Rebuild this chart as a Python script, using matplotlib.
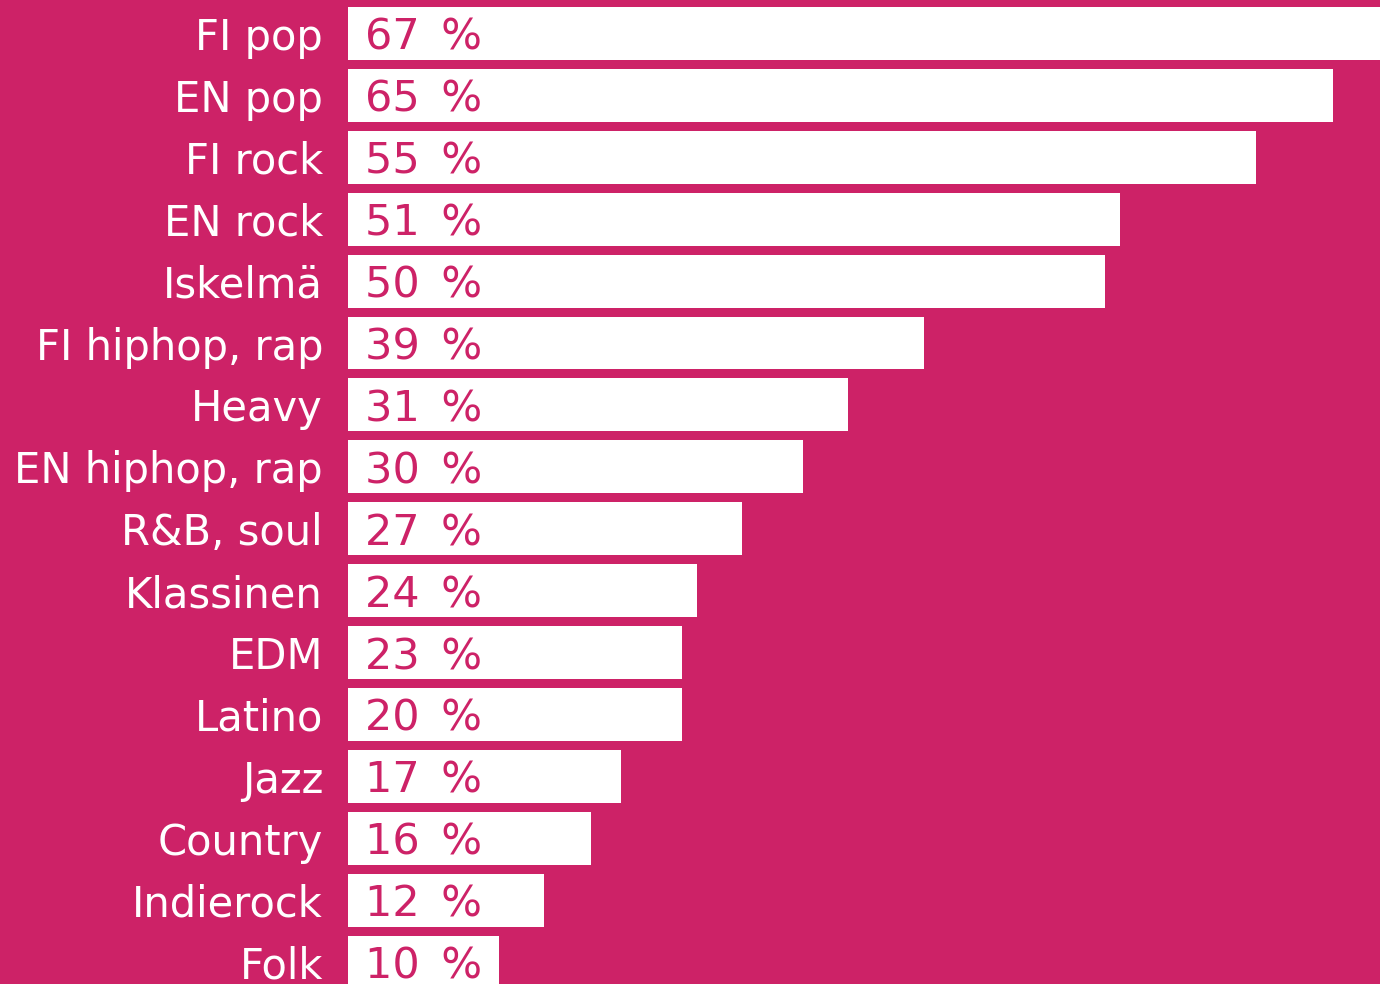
import matplotlib.pyplot as plt
import numpy as np

# genre shares, top to bottom
genres = ["FI pop", "EN pop", "FI rock", "EN rock", "Iskelmä", "FI hiphop, rap",
          "Heavy", "EN hiphop, rap", "R&B, soul", "Klassinen", "EDM", "Latino",
          "Jazz", "Country", "Indierock", "Folk"]
shares = [67, 65, 55, 51, 50, 39, 31, 30, 27, 24, 23, 20, 17, 16, 12, 10]
# bar lengths as drawn in the picture (not always equal to the printed share)
bar_len = [70, 65.2, 60.1, 51.1, 50.1, 38.1, 33.1, 30.1, 26.1, 23.1, 22.1, 22.1,
           18.1, 16.1, 13.0, 10.0]

bg = "#cd2267"

fig = plt.figure(figsize=(13.8, 9.84), dpi=100, facecolor=bg)
ax = fig.add_axes([348 / 1380, 0, 1 - 348 / 1380, 1])
ax.set_facecolor(bg)

y = np.arange(len(genres))
ax.barh(y, bar_len, height=0.856, color="white", left=0)

for i, s in enumerate(shares):
    ax.text(1.1, i, f"{s}\u2002%", color=bg, fontsize=31,
            va="center_baseline", ha="left")

ax.set_yticks(y)
ax.set_yticklabels(genres, color="white", fontsize=30)
ax.tick_params(axis="y", length=0, pad=18)
ax.set_xticks([])
ax.set_xlim(0, 68.3)
ax.set_ylim(15.355, -0.541)
for sp in ax.spines.values():
    sp.set_visible(False)

fig.savefig("out.png", dpi=100, facecolor=bg)
